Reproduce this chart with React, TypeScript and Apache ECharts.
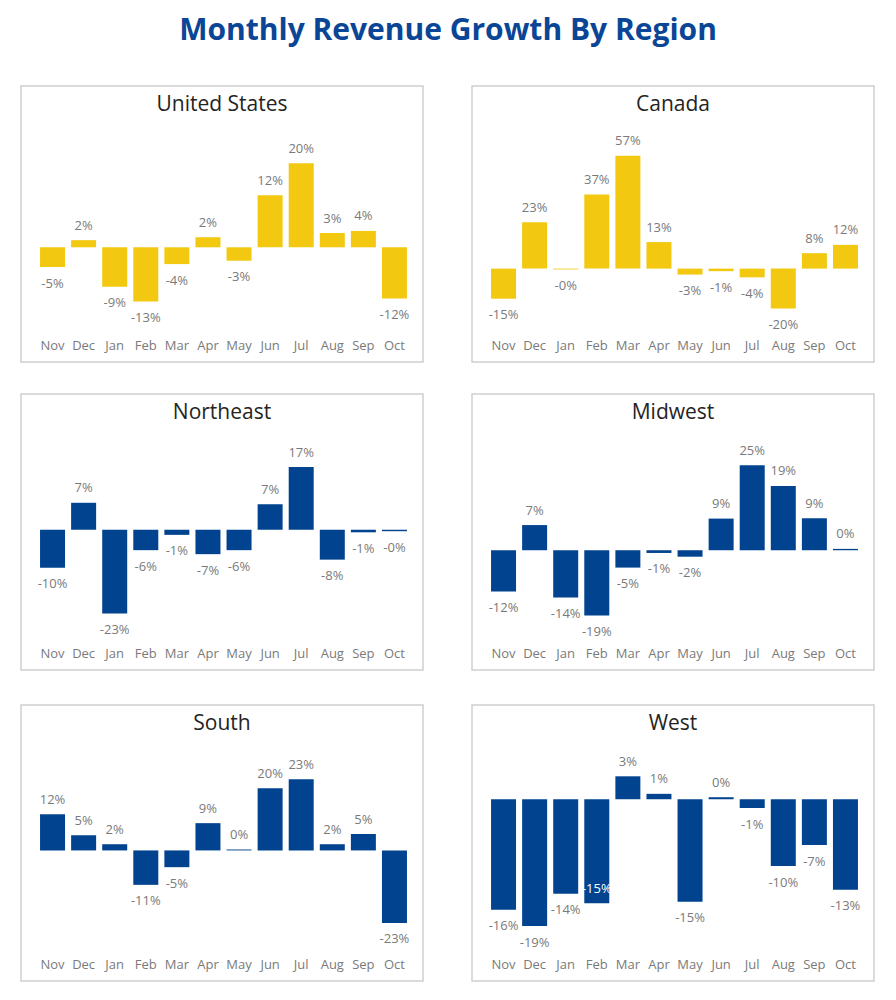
import React, { useEffect, useRef } from "react";
import * as echarts from "echarts";

const months = ["Nov", "Dec", "Jan", "Feb", "Mar", "Apr", "May", "Jun", "Jul", "Aug", "Sep", "Oct"];

const usValues = [-4.7, 1.7, -9.4, -12.9, -4.0, 2.4, -3.2, 12.4, 20.0, 3.4, 3.9, -12.2];
const canadaValues = [-15.2, 23.4, -0.4, 37.4, 57.0, 13.4, -3.0, -1.3, -4.4, -20.2, 7.8, 12.0];
const northeastValues = [-10.4, 7.4, -23.0, -5.6, -1.4, -6.7, -5.6, 7.0, 17.2, -8.2, -0.7, -0.4];
const midwestValues = [-12.1, 7.4, -13.9, -19.2, -5.1, -0.8, -1.9, 9.3, 25.0, 18.9, 9.4, 0.4];
const southValues = [11.7, 4.9, 2.0, -11.1, -5.4, 8.8, 0.3, 20.1, 23.0, 2.0, 5.3, -23.4];
const westValues = [-16.4, -18.8, -14.0, -15.4, 3.4, 0.8, -15.2, 0.3, -1.3, -9.9, -6.8, -13.4];

const regionNames = ["United States", "Canada", "Northeast", "Midwest", "South", "West"];
const regionValues = [usValues, canadaValues, northeastValues, midwestValues, southValues, westValues];
const axisMins = [-19.7, -31.0, -29.7, -25.8, -31.8, -22.2];
const axisMaxs = [27.7, 69.5, 24.9, 32.7, 32.4, 7.3];

const YELLOW = "#F2C811";
const BLUE = "#01438F";
const FONT = "'Open Sans', 'Noto Sans', sans-serif";
const GRAY = "#7a7a7a";

const fmt = (v: number) => (v < 0 ? "-" : "") + Math.round(Math.abs(v)) + "%";

export default function App() {
  const ref = useRef<HTMLDivElement>(null);

  useEffect(() => {
    document.body.style.margin = "0";
    if (!ref.current) return;
    const chart = echarts.init(ref.current, undefined, { renderer: "svg" });

    const rowTops = [86, 394, 705];
    const colLefts = [21, 472];
    const panelW = 402;
    const panelH = 276;

    const grids: any[] = [];
    const xAxes: any[] = [];
    const yAxes: any[] = [];
    const series: any[] = [];
    const graphics: any[] = [];

    graphics.push({
      type: "text",
      x: 448,
      y: 28,
      style: {
        text: "Monthly Revenue Growth By Region",
        align: "center",
        verticalAlign: "middle",
        font: `bold 30px ${FONT}`,
        fill: "#0A4596",
      },
    });

    regionNames.forEach((name, i) => {
      const col = i % 2;
      const row = Math.floor(i / 2);
      const left = colLefts[col];
      const top = rowTops[row];
      const color = i < 2 ? YELLOW : BLUE;

      graphics.push({
        type: "rect",
        shape: { x: left, y: top, width: panelW, height: panelH },
        style: { fill: "#fff", stroke: "#cfcfcf", lineWidth: 1.5 },
        z: -10,
      });
      graphics.push({
        type: "text",
        x: left + panelW / 2,
        y: top + 17,
        style: {
          text: name,
          align: "center",
          verticalAlign: "middle",
          font: `21px ${FONT}`,
          fill: "#252423",
        },
      });

      grids.push({ left: left + 16, width: 373, top: top + 45, height: 199 });
      xAxes.push({
        gridIndex: i,
        type: "category",
        data: months,
        axisLine: { show: false },
        axisTick: { show: false },
        axisLabel: { interval: 0, color: GRAY, fontSize: 13, margin: 8, fontFamily: FONT },
      });
      yAxes.push({
        gridIndex: i,
        type: "value",
        min: axisMins[i],
        max: axisMaxs[i],
        show: false,
        splitLine: { show: false },
      });

      const data = regionValues[i].map((v, j) => {
        const special = name === "West" && months[j] === "Feb";
        return {
          value: v,
          label: special
            ? { position: "insideBottom", color: "#ffffff", distance: 9 }
            : { position: v < 0 ? "bottom" : "top" },
        };
      });

      series.push({
        type: "bar",
        xAxisIndex: i,
        yAxisIndex: i,
        barWidth: 25,
        itemStyle: { color },
        label: {
          show: true,
          distance: 9,
          color: GRAY,
          fontSize: 13,
          fontFamily: FONT,
          formatter: (p: any) => fmt(p.value),
        },
        data,
      });
    });

    chart.setOption({
      animation: false,
      backgroundColor: "#ffffff",
      grid: grids,
      xAxis: xAxes,
      yAxis: yAxes,
      series,
      graphic: graphics,
    });

    return () => chart.dispose();
  }, []);

  return (
    <div
      ref={ref}
      style={{ position: "absolute", left: 0, top: 0, width: 896, height: 1000 }}
    />
  );
}
